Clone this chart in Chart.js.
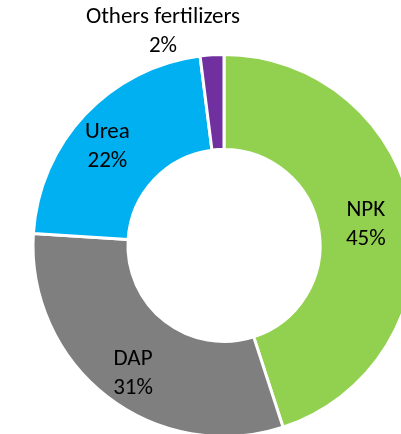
<!DOCTYPE html>
<html>
<head>
<meta charset="utf-8">
<script src="https://cdn.jsdelivr.net/npm/chart.js@4"></script>
<style>
  html, body { margin: 0; padding: 0; background: #fff; overflow: hidden; }
  #wrap { position: absolute; left: 0; top: 0; width: 448px; height: 491px; }
</style>
</head>
<body>
<div id="wrap"><canvas id="pie"></canvas></div>
<script>
const labels = ['NPK', 'DAP', 'Urea', 'Others fertilizers']
const shares = [45, 31, 22, 2]
const colors = ['#92D050', '#7F7F7F', '#00B0F0', '#7030A0']

// nudges so the labels sit where the original put them
const nudge = [[0, 1], [-3, 14], [-12, -1], [0, 0]]

const sliceLabels = {
  id: 'sliceLabels',
  afterDatasetsDraw(chart) {
    const ctx = chart.ctx
    const meta = chart.getDatasetMeta(0)
    ctx.save()
    ctx.font = '23px Carlito, Lato, sans-serif'
    ctx.fillStyle = '#000'
    ctx.textAlign = 'center'
    ctx.textBaseline = 'middle'
    meta.data.forEach((arc, i) => {
      const txt = [labels[i], shares[i] + '%']
      let x, y
      if (i === 3) {
        // small slice: label goes outside, above the ring
        const p = arc.getProps(['x', 'y', 'outerRadius'])
        x = p.x - 61
        y = p.y - p.outerRadius - 23
      } else {
        const c = arc.tooltipPosition()
        x = c.x + nudge[i][0]
        y = c.y + nudge[i][1]
      }
      ctx.fillText(txt[0], x, y - 14)
      ctx.fillText(txt[1], x, y + 15)
    })
    ctx.restore()
  }
}

new Chart(document.getElementById('pie'), {
  type: 'doughnut',
  data: {
    labels: labels,
    datasets: [{
      data: shares,
      backgroundColor: colors,
      borderColor: '#fff',
      borderWidth: 3
    }]
  },
  options: {
    responsive: true,
    maintainAspectRatio: false,
    animation: false,
    radius: 191,
    cutout: '50.3%',
    plugins: {
      legend: { display: false },
      tooltip: { enabled: false }
    }
  },
  plugins: [sliceLabels]
});
</script>
</body>
</html>
